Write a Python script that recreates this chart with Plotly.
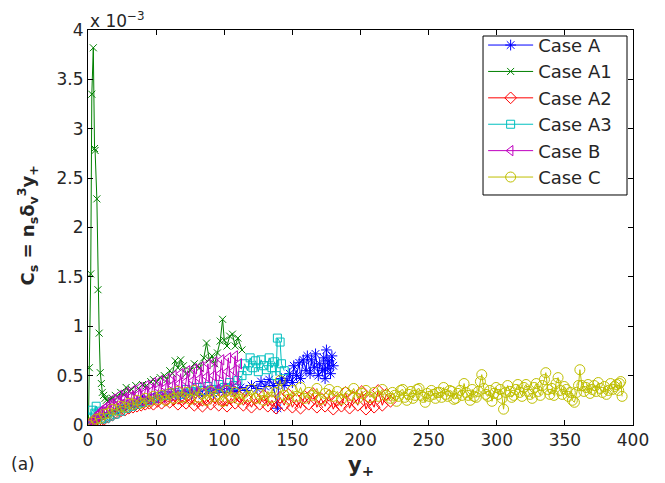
import plotly.graph_objects as go

# ---------------- data (y in units of 1e-3) ----------------
caseA_x = [0, 4, 8, 12, 16, 20, 24, 28, 32, 36, 40, 44, 48, 52, 56, 60, 64, 68, 72, 76, 80, 84, 88, 92, 96,
           100, 104, 108, 112, 116, 120, 124, 127, 130, 133, 136, 139, 140, 142, 144, 146, 148, 150, 151, 153,
           155, 156, 158, 160, 161, 163, 164, 166, 167, 169, 170, 172, 173, 174, 175, 176, 177, 178, 179, 180]
caseA_y = [0.00, 0.03, 0.06, 0.09, 0.12, 0.15, 0.17, 0.20, 0.21, 0.23, 0.25, 0.26, 0.27, 0.28, 0.30, 0.29,
           0.31, 0.30, 0.33, 0.31, 0.34, 0.30, 0.35, 0.32, 0.36, 0.33, 0.37, 0.34, 0.38, 0.35, 0.40, 0.37,
           0.44, 0.39, 0.46, 0.40, 0.17, 0.42, 0.47, 0.40, 0.45, 0.52, 0.43, 0.60, 0.50, 0.63, 0.47, 0.66,
           0.55, 0.70, 0.52, 0.66, 0.58, 0.72, 0.50, 0.62, 0.55, 0.68, 0.47, 0.76, 0.57, 0.65, 0.52, 0.70, 0.60]

caseA1_x = [0.3, 1, 2, 2.8, 3.9, 4.8, 5.2, 6.5, 7.3, 8.2, 9, 9.8, 10.5, 11.5, 12.5, 13.5, 15, 16, 18, 20,
            22, 24, 26, 28, 30, 32, 35, 37, 40, 43, 46, 48, 50, 53, 56, 58, 60, 62, 64, 66, 68, 70, 72, 75,
            78, 80, 82, 85, 87, 89, 91, 93, 95, 97, 98.8, 100, 102, 104, 106, 108, 110, 113]
caseA1_y = [0.00, 0.58, 1.53, 3.35, 3.82, 2.80, 2.78, 2.29, 1.37, 0.93, 0.53, 0.42, 0.33, 0.30, 0.27, 0.25,
            0.24, 0.26, 0.27, 0.30, 0.28, 0.33, 0.31, 0.38, 0.34, 0.36, 0.40, 0.37, 0.41, 0.40, 0.44, 0.46,
            0.43, 0.48, 0.50, 0.46, 0.55, 0.52, 0.65, 0.58, 0.66, 0.60, 0.52, 0.55, 0.62, 0.60, 0.58, 0.68,
            0.83, 0.66, 0.70, 0.62, 0.73, 0.85, 1.07, 0.86, 0.80, 0.90, 0.92, 0.80, 0.88, 0.76]

caseA2_x = [0, 3, 6, 9, 12, 15, 18, 21, 24, 27, 30, 33, 36, 39, 42, 45, 48, 51, 54, 57, 60, 63, 66, 69,
            72, 75, 78, 81, 84, 87, 90, 93, 96, 99, 102, 105, 108, 111, 114, 117, 120, 123, 126, 129, 132,
            135, 138, 141, 144, 147, 150, 153, 156, 159, 162, 165, 168, 171, 174, 177, 180, 183, 186, 189,
            192, 195, 198, 201, 204, 207, 210, 213, 216, 219, 222]
caseA2_y = [0.00, 0.01, 0.02, 0.04, 0.06, 0.08, 0.10, 0.12, 0.14, 0.15, 0.17, 0.18, 0.19, 0.20, 0.21,
            0.22, 0.21, 0.24, 0.22, 0.25, 0.23, 0.26, 0.21, 0.25, 0.22, 0.27, 0.20, 0.24, 0.19, 0.26, 0.21,
            0.28, 0.20, 0.25, 0.19, 0.27, 0.22, 0.29, 0.20, 0.26, 0.18, 0.27, 0.21, 0.30, 0.19, 0.25, 0.17,
            0.28, 0.20, 0.31, 0.18, 0.26, 0.17, 0.29, 0.21, 0.32, 0.18, 0.27, 0.19, 0.30, 0.16, 0.25, 0.19,
            0.33, 0.17, 0.28, 0.20, 0.34, 0.16, 0.26, 0.18, 0.35, 0.20, 0.31, 0.24]

caseA3_x = [0, 2, 3, 5, 6, 8, 10, 13, 16, 20, 24, 28, 32, 36, 40, 44, 48, 52, 56, 60, 64, 68, 72, 76, 80,
            84, 88, 92, 96, 100, 104, 107, 110, 113, 115, 117, 119, 121, 123, 125, 127, 129, 131, 133, 135,
            137, 138, 139, 141, 142, 144]
caseA3_y = [0.00, 0.08, 0.15, 0.12, 0.19, 0.14, 0.06, 0.07, 0.09, 0.11, 0.14, 0.17, 0.19, 0.21, 0.23,
            0.25, 0.27, 0.29, 0.30, 0.32, 0.33, 0.31, 0.36, 0.34, 0.38, 0.35, 0.39, 0.36, 0.41, 0.38, 0.43,
            0.40, 0.45, 0.50, 0.62, 0.55, 0.68, 0.58, 0.65, 0.54, 0.66, 0.60, 0.56, 0.68, 0.58, 0.64, 0.50,
            0.88, 0.84, 0.62, 0.55]

caseB_x = [0, 1, 2, 3, 4, 5, 6, 7, 8, 9, 10, 12, 14, 15, 17, 18, 20, 22, 23, 25, 27, 28, 30, 32, 33, 35,
           37, 38, 40, 42, 43, 45, 47, 48, 50, 52, 53, 55, 57, 58, 60, 62, 63, 65, 67, 68, 70, 72, 73, 75,
           77, 78, 80, 82, 83, 85, 87, 88, 90, 92, 93, 95, 97, 98, 100, 102, 103, 105, 107, 108, 110, 111]
caseB_y = [0.00, 0.01, 0.03, 0.04, 0.06, 0.07, 0.09, 0.10, 0.12, 0.13, 0.15, 0.17, 0.19, 0.17, 0.22,
           0.26, 0.19, 0.25, 0.30, 0.21, 0.27, 0.33, 0.22, 0.29, 0.35, 0.23, 0.31, 0.38, 0.24, 0.33, 0.40,
           0.26, 0.35, 0.43, 0.27, 0.37, 0.45, 0.28, 0.38, 0.47, 0.29, 0.40, 0.50, 0.30, 0.42, 0.52, 0.31,
           0.44, 0.55, 0.32, 0.45, 0.57, 0.33, 0.47, 0.59, 0.34, 0.49, 0.62, 0.35, 0.50, 0.64, 0.36, 0.52,
           0.66, 0.37, 0.54, 0.68, 0.38, 0.55, 0.70, 0.40, 0.62]

caseC_x = [0, 3, 6, 9, 12, 15, 18, 21, 24, 27, 30, 33, 36, 39, 42, 45, 48, 51, 54, 57, 60, 63, 66, 69, 72,
           75, 78, 81, 84, 87, 90, 93, 96, 99, 102, 105, 108, 111, 114, 117, 120, 123, 126, 129, 132, 135,
           138, 141, 144, 147, 150, 153, 156, 159, 162, 165, 168, 171, 174, 177, 180, 183, 186, 189, 192,
           195, 198, 201, 204, 207, 210, 213, 216, 219,
           222, 223.5, 225, 226.5, 228, 229.5, 231, 232.5, 234, 235.5, 237, 238.5, 240, 241.5, 243, 244.5,
           246, 247.5, 249, 250.5, 252, 253.5, 255, 256.5, 258, 259.5, 261, 262.5, 264, 265.5, 267, 268.5,
           270, 271.5, 273, 274.5, 276, 277.5, 279, 280.5, 282, 283.5, 285, 286.5, 288, 289, 290.5, 292,
           293.5, 295, 296.5, 298, 299.5, 301, 302.5, 304, 305, 306.5, 308, 309.5, 311, 312.5, 314, 315.5,
           317, 318.5, 320, 321.5, 323, 324.5, 326, 327.5, 329, 330.5, 332, 333.5, 335, 336, 337.5, 339,
           340.5, 342, 343.5, 345, 346.5, 348, 349.5, 351, 352.5, 354, 355.5, 357, 358.5, 360, 361, 362.5,
           364, 365.5, 367, 368.5, 370, 371.5, 373, 374.5, 376, 377.5, 379, 380.5, 382, 383.5, 385, 386.5,
           388, 389.5, 390, 391, 392]
caseC_y = [0.00, 0.03, 0.06, 0.07, 0.11, 0.12, 0.16, 0.15, 0.19, 0.18, 0.22, 0.21, 0.25, 0.22, 0.27,
           0.24, 0.29, 0.26, 0.30, 0.25, 0.32, 0.27, 0.34, 0.28, 0.33, 0.26, 0.35, 0.28, 0.32, 0.25, 0.34,
           0.29, 0.31, 0.24, 0.35, 0.28, 0.33, 0.26, 0.32, 0.29, 0.36, 0.27, 0.31, 0.25, 0.34, 0.28, 0.33,
           0.45, 0.30, 0.26, 0.35, 0.29, 0.38, 0.27, 0.33, 0.30, 0.37, 0.26, 0.32, 0.36, 0.29, 0.34, 0.26,
           0.33, 0.30, 0.37, 0.27, 0.32, 0.35, 0.28, 0.33, 0.29, 0.36, 0.30,
           0.27, 0.33, 0.30, 0.24, 0.29, 0.35, 0.36, 0.28, 0.25, 0.31, 0.34, 0.27, 0.30, 0.36, 0.37, 0.30,
           0.28, 0.23, 0.32, 0.29, 0.35, 0.31, 0.27, 0.33, 0.33, 0.28, 0.38, 0.31, 0.29, 0.35, 0.34, 0.26,
           0.27, 0.32, 0.35, 0.30, 0.42, 0.33, 0.30, 0.25, 0.36, 0.29, 0.28, 0.34, 0.44, 0.51, 0.37, 0.31,
           0.29, 0.35, 0.24, 0.32, 0.38, 0.31, 0.36, 0.27, 0.16, 0.33, 0.40, 0.34, 0.28, 0.30, 0.36, 0.41,
           0.33, 0.29, 0.38, 0.41, 0.34, 0.31, 0.27, 0.38, 0.42, 0.34, 0.30, 0.40, 0.46, 0.53, 0.36, 0.31,
           0.37, 0.30, 0.42, 0.48, 0.35, 0.31, 0.39, 0.36, 0.29, 0.33, 0.25, 0.23, 0.33, 0.40, 0.56, 0.40,
           0.34, 0.38, 0.41, 0.32, 0.36, 0.40, 0.34, 0.43, 0.37, 0.33, 0.39, 0.31, 0.35, 0.42, 0.36, 0.39,
           0.41, 0.35, 0.42, 0.44, 0.29]

series = [
    ("Case A", caseA_x, caseA_y, "#0000ff", "asterisk-open", 9),
    ("Case A1", caseA1_x, caseA1_y, "#008000", "x-thin-open", 7),
    ("Case A2", caseA2_x, caseA2_y, "#ff0000", "diamond-open", 9),
    ("Case A3", caseA3_x, caseA3_y, "#00bfbf", "square-open", 8),
    ("Case B", caseB_x, caseB_y, "#bf00bf", "triangle-left-open", 9),
    ("Case C", caseC_x, caseC_y, "#bfbf00", "circle-open", 10),
]

xticks = [0, 50, 100, 150, 200, 250, 300, 350, 400]
yticks = [0, 0.5, 1, 1.5, 2, 2.5, 3, 3.5, 4]
yticklabels = ["0", "0.5", "1", "1.5", "2", "2.5", "3", "3.5", "4"]

FONT = "DejaVu Sans, sans-serif"
TXT = "#262626"

fig = go.Figure()
for name, xs, ys, col, sym, sz in series:
    fig.add_trace(go.Scatter(
        x=xs, y=ys, mode="lines+markers", name=name,
        line=dict(color=col, width=1),
        marker=dict(symbol=sym, size=sz, color=col, line=dict(color=col, width=1)),
    ))

axis_common = dict(
    showline=True, linecolor="black", linewidth=1, mirror="ticks",
    ticks="inside", ticklen=5, tickcolor="black", showgrid=False, zeroline=False,
    tickfont=dict(family=FONT, size=17, color=TXT),
)
fig.update_xaxes(range=[0, 400], tickvals=xticks, **axis_common)
fig.update_yaxes(range=[0, 4], tickvals=yticks, ticktext=yticklabels, **axis_common)

fig.update_layout(
    width=665, height=483,
    margin=dict(l=88, r=32, t=30, b=58),
    paper_bgcolor="white", plot_bgcolor="white",
    font=dict(family=FONT, color=TXT),
    showlegend=True,
    legend=dict(
        x=0.725, y=1.008, xanchor="left", yanchor="top",
        bgcolor="rgba(0,0,0,0)", borderwidth=0,
        font=dict(family=FONT, size=18, color=TXT),
        tracegroupgap=0, itemwidth=45,
    ),
    shapes=[
        dict(type="rect", xref="paper", yref="paper", x0=0.7248, x1=0.989, y0=0.5823, y1=0.9848,
             fillcolor="white", line=dict(color="black", width=1), layer="above"),
    ],
    annotations=[
        dict(text="x 10<sup>−3</sup>", xref="paper", yref="paper", x=0, y=1,
             xanchor="left", yanchor="bottom", showarrow=False, yshift=-3,
             font=dict(family=FONT, size=17, color=TXT)),
        dict(text="<b>C<sub>s</sub> = n<sub>s</sub>δ<sub>v</sub><sup>3</sup>y<sub>+</sub></b>",
             xref="paper", yref="paper", x=-0.112, y=0.505, textangle=-90,
             xanchor="center", yanchor="middle", showarrow=False,
             font=dict(family=FONT, size=18, color=TXT)),
        dict(text="<b>y<sub>+</sub></b>", xref="paper", yref="paper", x=0.5, y=-0.065,
             xanchor="center", yanchor="top", showarrow=False,
             font=dict(family=FONT, size=21, color=TXT)),
        dict(text="(a)", xref="paper", yref="paper", x=-0.12, y=-0.068,
             xanchor="center", yanchor="top", showarrow=False,
             font=dict(family=FONT, size=17, color=TXT)),
    ],
)

fig.write_html("out.html", config={"displayModeBar": False},
               post_script="document.body.style.margin='0px';")
